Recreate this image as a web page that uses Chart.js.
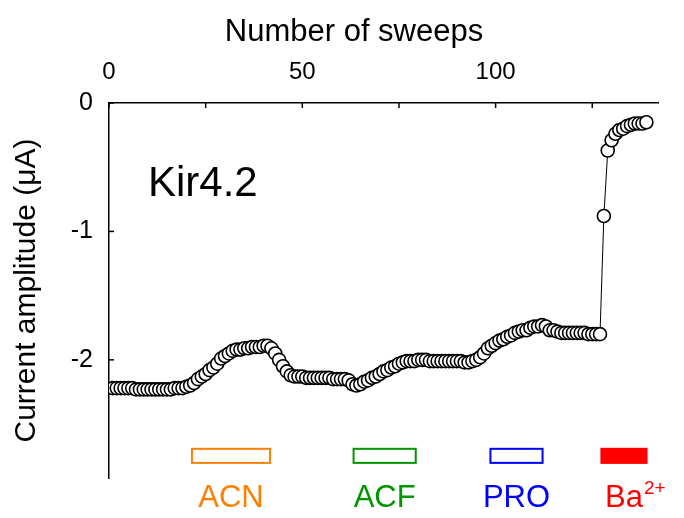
<!DOCTYPE html>
<html><head><meta charset="utf-8">
<script src="https://cdn.jsdelivr.net/npm/chart.js@4"></script>
<style>html,body{margin:0;padding:0;background:#fff}#wrap{width:684px;height:518px;position:relative}</style>
</head><body><div id="wrap"><canvas id="c" width="684" height="518"></canvas></div>
<script>
// Current amplitude (µA) for sweeps 1..139
const current = [
  -2.22, -2.22, -2.22, -2.22, -2.22, -2.22, -2.23, -2.23, -2.23, -2.23,
  -2.23, -2.23, -2.23, -2.23, -2.23, -2.23, -2.22, -2.22, -2.22, -2.21,
  -2.20, -2.18, -2.15, -2.13, -2.11, -2.08, -2.06, -2.03, -1.99, -1.97,
  -1.95, -1.93, -1.92, -1.92, -1.91, -1.91, -1.90, -1.90, -1.90, -1.89,
  -1.89, -1.91, -1.95, -2.00, -2.05, -2.09, -2.12, -2.13, -2.13, -2.13,
  -2.14, -2.14, -2.14, -2.14, -2.14, -2.14, -2.14, -2.15, -2.15, -2.15,
  -2.15, -2.16, -2.19, -2.20, -2.19, -2.17, -2.16, -2.14, -2.13, -2.11,
  -2.09, -2.08, -2.06, -2.05, -2.03, -2.02, -2.01, -2.01, -2.01, -2.00,
  -2.00, -2.00, -2.01, -2.01, -2.01, -2.01, -2.01, -2.01, -2.01, -2.01,
  -2.01, -2.02, -2.02, -2.01, -2.00, -1.98, -1.95, -1.91, -1.89, -1.87,
  -1.85, -1.84, -1.82, -1.81, -1.79, -1.78, -1.77, -1.77, -1.75, -1.74,
  -1.74, -1.73, -1.74, -1.77, -1.77, -1.78, -1.79, -1.79, -1.79, -1.79,
  -1.79, -1.79, -1.79, -1.80, -1.80, -1.80, -1.80, -0.88, -0.37, -0.29,
  -0.24, -0.21, -0.20, -0.18, -0.17, -0.16, -0.16, -0.16, -0.15
];
const sweeps = current.map((_, i) => i + 1);

const xTickLabels = [0, 50, 100];
const xTickMarks = [0, 25, 50, 75, 100, 125];
const yTickLabels = [0, -1, -2];

// drug application bars (sweep ranges)
const drugNames = ['ACN', 'ACF', 'PRO', 'Ba'];
const drugSup = ['', '', '', '2+'];
const drugStart = [21.2, 63.0, 98.4, 127.1];
const drugEnd = [41.9, 79.6, 112.4, 139.3];
const drugColors = ['#ff8000', '#009600', '#0000ff', '#ff0000'];
const drugFilled = [false, false, false, true];

const FONT = "'Liberation Sans', Arial, sans-serif";

const overlay = {
  id: 'overlay',
  afterDraw(chart) {
    const ctx = chart.ctx, xs = chart.scales.x, ys = chart.scales.y, ca = chart.chartArea;
    ctx.save();
    // inward tick marks
    ctx.strokeStyle = '#000'; ctx.lineWidth = 1.5;
    xTickMarks.forEach(v => {
      const px = xs.getPixelForValue(v);
      ctx.beginPath(); ctx.moveTo(px, ca.top); ctx.lineTo(px, ca.top + 5); ctx.stroke();
    });
    yTickLabels.forEach(v => {
      const py = ys.getPixelForValue(v);
      ctx.beginPath(); ctx.moveTo(ca.left, py); ctx.lineTo(ca.left + 5, py); ctx.stroke();
    });
    // x axis title
    ctx.fillStyle = '#000';
    ctx.font = '31px ' + FONT;
    ctx.textAlign = 'center'; ctx.textBaseline = 'middle';
    ctx.fillText('Number of sweeps', ca.left + 245, 32);
    // drug bars
    const yTop = ys.getPixelForValue(-2.685), yBot = ys.getPixelForValue(-2.81);
    drugNames.forEach((name, i) => {
      const x0 = xs.getPixelForValue(drugStart[i]), x1 = xs.getPixelForValue(drugEnd[i]);
      ctx.lineWidth = 2;
      if (drugFilled[i]) {
        ctx.fillStyle = drugColors[i];
        ctx.fillRect(x0, yTop, x1 - x0, yBot - yTop);
      } else {
        ctx.strokeStyle = drugColors[i];
        ctx.strokeRect(x0 + 1, yTop + 1, x1 - x0 - 2, yBot - yTop - 2);
      }
      ctx.fillStyle = drugColors[i];
      ctx.font = '31px ' + FONT;
      ctx.textAlign = 'center'; ctx.textBaseline = 'middle';
      const cx = (x0 + x1) / 2, cy = ca.bottom + 20;
      ctx.fillText(name, cx, cy);
      if (drugSup[i]) {
        const w = ctx.measureText(name).width;
        ctx.font = '19px ' + FONT;
        ctx.textAlign = 'left';
        ctx.fillText(drugSup[i], cx + w / 2 + 1, cy - 9);
      }
    });
    // panel label
    ctx.fillStyle = '#000';
    ctx.font = '42px ' + FONT;
    ctx.textAlign = 'left'; ctx.textBaseline = 'alphabetic';
    ctx.fillText('Kir4.2', ca.left + 39, ca.top + 93);
    ctx.restore();
  }
};

new Chart(document.getElementById('c'), {
  type: 'line',
  data: {
    datasets: [{
      data: sweeps.map((s, i) => ({ x: s, y: current[i] })),
      borderColor: '#000', borderWidth: 1,
      pointRadius: 6.5, pointBackgroundColor: '#fff',
      pointBorderColor: '#000', pointBorderWidth: 1.6,
      tension: 0
    }]
  },
  options: {
    responsive: false, animation: false,
    layout: { padding: { left: 0, right: 26, top: 0, bottom: 40 } },
    plugins: { legend: { display: false }, tooltip: { enabled: false } },
    scales: {
      x: {
        type: 'linear', position: 'top', min: 0, max: 142,
        grid: { display: false, drawTicks: false },
        border: { display: true, color: '#000', width: 1.5 },
        afterBuildTicks: s => { s.ticks = xTickLabels.map(v => ({ value: v })); },
        ticks: { color: '#000', font: { size: 24, family: FONT }, padding: 16 },
        title: { display: false },
        afterFit: s => { s.height = 103; }
      },
      y: {
        type: 'linear', min: -2.92, max: 0,
        grid: { display: false, drawTicks: false },
        border: { display: true, color: '#000', width: 1.5 },
        afterBuildTicks: s => { s.ticks = yTickLabels.map(v => ({ value: v })); },
        ticks: { color: '#000', font: { size: 25, family: FONT }, padding: 16 },
        title: { display: true, text: 'Current amplitude (\u03BCA)', color: '#000', font: { size: 30, family: FONT }, padding: { top: 9, bottom: 0 } },
        afterFit: s => { s.width = 109; }
      }
    }
  },
  plugins: [overlay]
});
</script></body></html>
